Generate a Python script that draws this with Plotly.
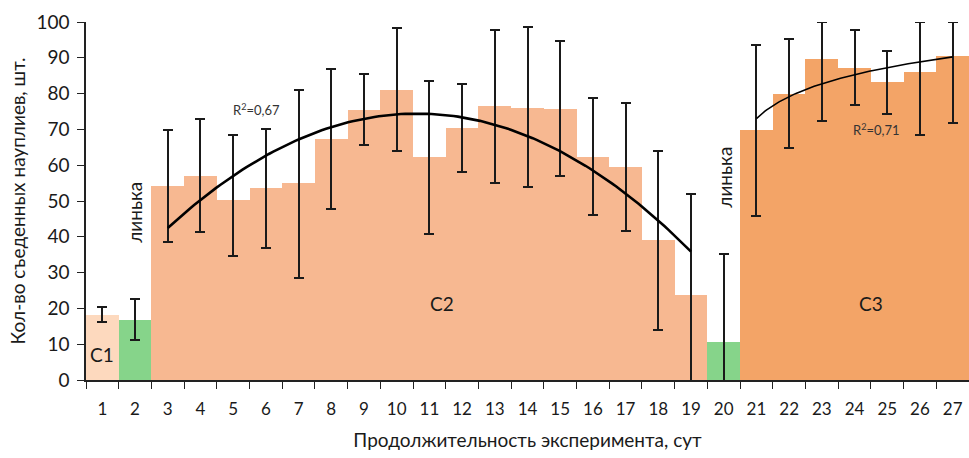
import numpy as np
import plotly.graph_objects as go

days = list(range(1, 28))
values = [18.2, 16.9, 54.2, 57.0, 50.2, 53.7, 54.9, 67.2, 75.5, 81.1, 62.2, 70.5,
          76.4, 76.1, 75.8, 62.4, 59.5, 39.1, 23.7, 10.7, 69.8, 80.0, 89.8, 87.2,
          83.3, 86.1, 90.5]
err_plus = [2.2, 5.6, 15.6, 15.8, 18.2, 16.3, 26.0, 19.6, 10.1, 17.2, 21.4, 12.3,
            21.3, 22.5, 18.9, 16.4, 17.8, 24.8, 28.3, 24.5, 23.9, 15.3, 10.2, 10.5,
            8.5, 13.9, 9.5]
err_minus = [1.9, 5.7, 15.6, 15.6, 15.6, 16.7, 26.3, 19.3, 9.9, 17.1, 21.5, 12.4,
             21.3, 22.3, 18.9, 16.4, 17.8, 25.0, 28.3, 24.5, 24.0, 15.2, 17.5, 10.4,
             8.9, 17.7, 18.6]
groups = ["C1", "molt", "C2", "C2", "C2", "C2", "C2", "C2", "C2", "C2", "C2", "C2",
          "C2", "C2", "C2", "C2", "C2", "C2", "C2", "molt", "C3", "C3", "C3", "C3",
          "C3", "C3", "C3"]
group_colors = {"C1": "#FDD9BE", "molt": "#86D48A", "C2": "#F7B891", "C3": "#F3A467"}

# trendlines computed from the data (as in the original spreadsheet)
c2_x = np.array(days[2:19], dtype=float)
c2_y = np.array(values[2:19])
c2_coef = np.polyfit(c2_x, c2_y, 2)
c2_xs = np.linspace(3, 19, 120)
c2_ys = np.polyval(c2_coef, c2_xs)

c3_idx = np.arange(1, 8, dtype=float)
c3_y = np.array(values[20:27])
c3_coef = np.polyfit(np.log(c3_idx), c3_y, 1)
c3_is = np.linspace(1, 7, 120)
c3_xs = c3_is + 20
c3_ys = np.polyval(c3_coef, np.log(c3_is))

fig = go.Figure()
fig.add_trace(go.Bar(
    x=days, y=values, width=1.0,
    marker=dict(color=[group_colors[g] for g in groups], line=dict(width=0)),
    error_y=dict(type="data", symmetric=False, array=err_plus, arrayminus=err_minus,
                 color="#1a1a1a", thickness=2, width=5),
    showlegend=False,
))
fig.add_trace(go.Scatter(x=c2_xs, y=c2_ys, mode="lines",
                         line=dict(color="black", width=2.6), showlegend=False))
fig.add_trace(go.Scatter(x=c3_xs, y=c3_ys, mode="lines",
                         line=dict(color="black", width=1.6), showlegend=False))

font_main = "Lato, 'Open Sans', sans-serif"
ann = [
    dict(x=1, y=7, text="C1", font=dict(size=19)),
    dict(x=11.4, y=21.4, text="C2", font=dict(size=19)),
    dict(x=24.5, y=21.4, text="C3", font=dict(size=19)),
    dict(x=2.0, y=46.7, text="линька", textangle=-90, font=dict(size=19)),
    dict(x=20.0, y=56.7, text="линька", textangle=-90, font=dict(size=19)),
    dict(x=5.72, y=75.6, text="R<sup>2</sup>=0,67", font=dict(size=13, color="#333333")),
    dict(x=24.68, y=70.0, text="R<sup>2</sup>=0,71", font=dict(size=13, color="#333333")),
]
for a in ann:
    a.update(xref="x", yref="y", showarrow=False)
    a["font"].setdefault("color", "#1a1a1a")
    a["font"]["family"] = font_main

fig.update_layout(
    width=969, height=458,
    margin=dict(l=86, r=0, t=22, b=78),
    plot_bgcolor="white", paper_bgcolor="white",
    bargap=0,
    font=dict(family=font_main, size=18, color="#1a1a1a"),
    annotations=ann,
    xaxis=dict(
        range=[0.5, 27.5], tickmode="array", tickvals=days,
        ticktext=[str(d) for d in days], ticks="", showgrid=False, zeroline=False,
        showline=True, linecolor="#222222", linewidth=1.5,
        tickfont=dict(size=17), ticklabelstandoff=13, automargin=False,
        minor=dict(tickmode="array", tickvals=[d - 0.5 for d in days] + [27.5],
                   ticks="outside", ticklen=7, tickwidth=1.3, tickcolor="#222222",
                   showgrid=False),
        title=dict(text="Продолжительность эксперимента, сут", font=dict(size=19),
                   standoff=16),
    ),
    yaxis=dict(
        range=[0, 100], tickmode="array", tickvals=list(range(0, 101, 10)),
        ticks="outside", ticklen=7, tickwidth=1.3, tickcolor="#222222",
        showgrid=False, zeroline=False, automargin=False,
        showline=True, linecolor="#222222", linewidth=1.5,
        tickfont=dict(size=19), ticklabelstandoff=4,
        title=dict(text="Кол-во съеденных науплиев, шт.", font=dict(size=19),
                   standoff=6),
    ),
)

fig.write_html("out.html")
